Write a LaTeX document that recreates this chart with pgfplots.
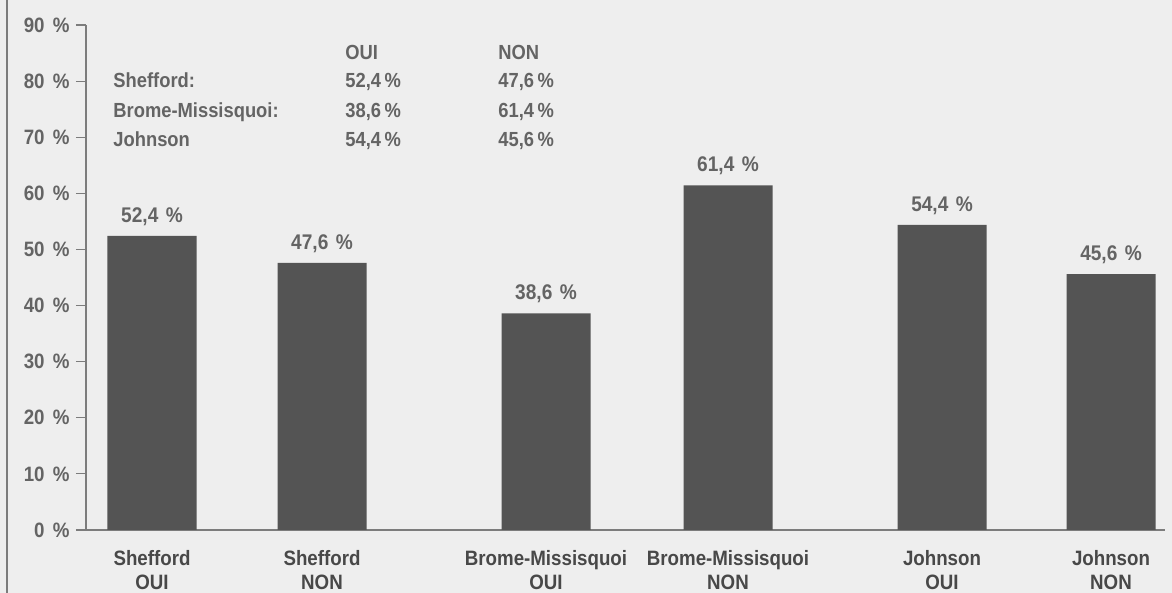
\documentclass[border=0pt]{standalone}
\usepackage{pgfplots}
\pgfplotsset{compat=1.18}
\usepackage{fontspec}
\setmainfont{Liberation Sans}[FakeStretch=0.9]

\definecolor{bg}{HTML}{EEEEEE}
\definecolor{barc}{HTML}{545454}
\definecolor{txt}{HTML}{646464}
\definecolor{lbl}{HTML}{484848}
\definecolor{axc}{HTML}{7C7C7C}

\begin{document}
\begin{tikzpicture}
  % fond et filet gauche
  \fill[bg] (-43pt,-31.5pt) rectangle (543pt,265pt);
  \draw[axc, line width=0.8pt] (-39.5pt,-31.5pt) -- (-39.5pt,265pt);
  \begin{axis}[
      at={(0pt,0pt)}, anchor=south west,
      scale only axis,
      width=539.5pt, height=252.5pt,
      xmin=86, xmax=1165,
      ymin=0, ymax=90,
      axis x line*=bottom, axis y line*=left,
      axis line style={axc, line width=0.6pt, -},
      tick align=outside,
      major tick length=5pt,
      ytick={0,10,20,30,40,50,60,70,80,90},
      yticklabels={0\hspace{0.4em}\%,10\hspace{0.4em}\%,20\hspace{0.4em}\%,30\hspace{0.4em}\%,
        40\hspace{0.4em}\%,50\hspace{0.4em}\%,60\hspace{0.4em}\%,70\hspace{0.4em}\%,
        80\hspace{0.4em}\%,90\hspace{0.4em}\%},
      ytick style={axc, line width=0.6pt},
      yticklabel style={font=\bfseries\fontsize{10.4}{12}\selectfont, text=txt, inner sep=0pt, xshift=-3pt},
      xtick={152,322,546,728,942,1111},
      xticklabels={{Shefford\\OUI},{Shefford\\NON},{Brome-Missisquoi\\OUI},
        {Brome-Missisquoi\\NON},{Johnson\\OUI},{Johnson\\NON}},
      xtick style={draw=none},
      xticklabel style={align=center, font=\bfseries\fontsize{10.4}{12}\selectfont,
        text=lbl, inner sep=0pt, yshift=-5pt},
      clip=false,
    ]
    \addplot[ybar, bar width=89, fill=barc, draw=none,
      nodes near coords={\pgfmathprintnumber[assume math mode=true, fixed,
        fixed zerofill, precision=1, use comma]{\pgfplotspointmeta}\hspace{0.35em}\%},
      every node near coord/.append style={font=\bfseries\fontsize{10.6}{12}\selectfont,
        text=txt, inner sep=0pt, yshift=5pt}]
      coordinates {
        (152,52.4)
        (322,47.6)
        (546,38.6)
        (728,61.4)
        (942,54.4)
        (1111,45.6)
      };

    % petit tableau en haut a gauche
    \begin{scope}[every node/.style={anchor=base west, text=txt,
        font=\bfseries\fontsize{10.2}{12}\selectfont, inner sep=0pt}]
      \node at (axis cs:345,83.9) {OUI};
      \node at (axis cs:498,83.9) {NON};
      \node at (axis cs:113,78.8) {Shefford:};
      \node at (axis cs:345,78.8) {52,4\,\%};
      \node at (axis cs:498,78.8) {47,6\,\%};
      \node at (axis cs:113,73.6) {Brome-Missisquoi:};
      \node at (axis cs:345,73.6) {38,6\,\%};
      \node at (axis cs:498,73.6) {61,4\,\%};
      \node at (axis cs:113,68.3) {Johnson};
      \node at (axis cs:345,68.3) {54,4\,\%};
      \node at (axis cs:498,68.3) {45,6\,\%};
    \end{scope}
  \end{axis}
  \pgfresetboundingbox
  \path (-43pt,-31.5pt) rectangle (543pt,265pt);
\end{tikzpicture}
\end{document}
